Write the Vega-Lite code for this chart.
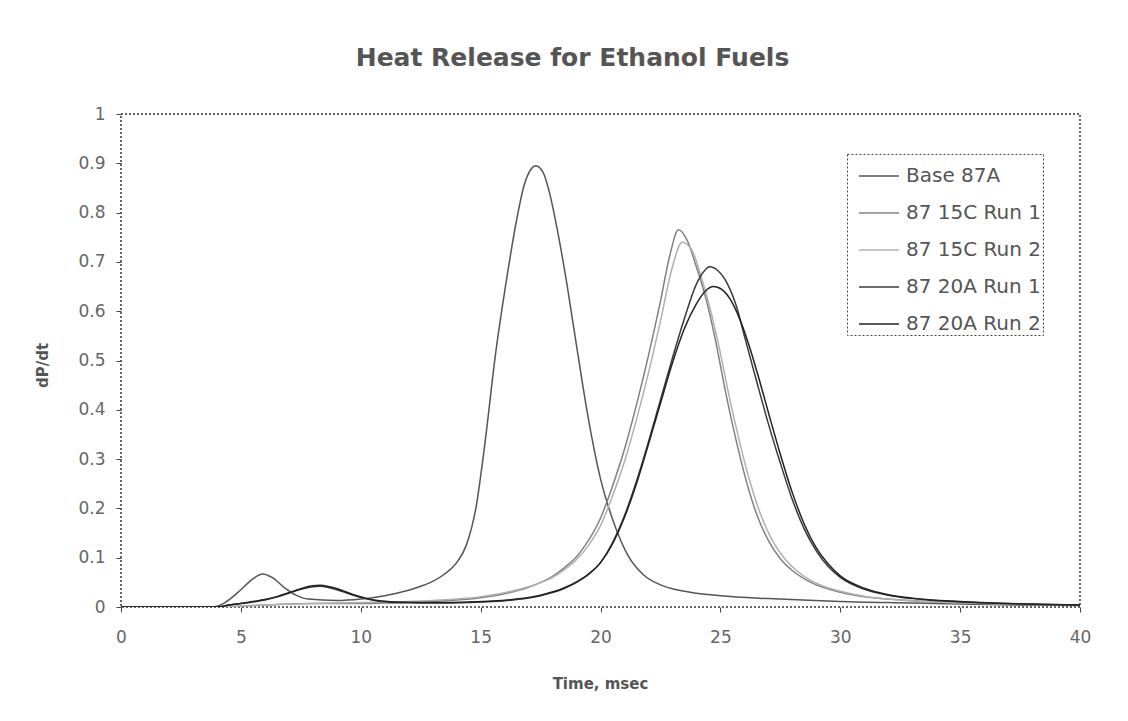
{
  "$schema": "https://vega.github.io/schema/vega-lite/v6.json",
  "width": 959,
  "height": 493,
  "autosize": {"type": "none"},
  "padding": {"left": 121, "top": 114, "right": 48, "bottom": 114},
  "background": "white",
  "title": {"text": "Heat Release for Ethanol Fuels", "font": "DejaVu Sans", "fontSize": 25, "fontWeight": "bold", "color": "#555555", "anchor": "middle", "offset": 34, "dx": -28},
  "config": {
    "view": {"stroke": "#333333", "strokeWidth": 1.5, "strokeDash": [2, 2]},
    "axis": {"grid": false, "domain": false, "labelFlush": false, "tickColor": "#444444", "tickSize": 5, "labelFont": "DejaVu Sans", "labelFontSize": 17, "labelColor": "#666666", "titleFont": "DejaVu Sans", "titleFontSize": 15, "titleFontWeight": "bold", "titleColor": "#555555"}
  },
  "datasets": {
    "curves": [
      {"s":"Base 87A","t":0,"v":0},{"s":"Base 87A","t":3.8,"v":0},{"s":"Base 87A","t":4.3,"v":0.008},{"s":"Base 87A","t":5,"v":0.035},{"s":"Base 87A","t":5.5,"v":0.057},{"s":"Base 87A","t":5.9,"v":0.067},{"s":"Base 87A","t":6.3,"v":0.06},{"s":"Base 87A","t":6.8,"v":0.04},{"s":"Base 87A","t":7.3,"v":0.024},{"s":"Base 87A","t":7.8,"v":0.016},{"s":"Base 87A","t":9,"v":0.013},{"s":"Base 87A","t":10,"v":0.016},{"s":"Base 87A","t":10.5,"v":0.019},{"s":"Base 87A","t":11,"v":0.023},{"s":"Base 87A","t":11.5,"v":0.028},{"s":"Base 87A","t":12,"v":0.034},{"s":"Base 87A","t":12.5,"v":0.042},{"s":"Base 87A","t":13,"v":0.052},{"s":"Base 87A","t":13.5,"v":0.067},{"s":"Base 87A","t":14,"v":0.09},{"s":"Base 87A","t":14.4,"v":0.125},{"s":"Base 87A","t":14.8,"v":0.2},{"s":"Base 87A","t":15.2,"v":0.34},{"s":"Base 87A","t":15.6,"v":0.505},{"s":"Base 87A","t":16.1,"v":0.67},{"s":"Base 87A","t":16.5,"v":0.785},{"s":"Base 87A","t":16.8,"v":0.853},{"s":"Base 87A","t":17.1,"v":0.888},{"s":"Base 87A","t":17.3,"v":0.895},{"s":"Base 87A","t":17.6,"v":0.882},{"s":"Base 87A","t":17.9,"v":0.835},{"s":"Base 87A","t":18.2,"v":0.765},{"s":"Base 87A","t":18.6,"v":0.655},{"s":"Base 87A","t":19,"v":0.53},{"s":"Base 87A","t":19.5,"v":0.38},{"s":"Base 87A","t":20,"v":0.26},{"s":"Base 87A","t":20.6,"v":0.165},{"s":"Base 87A","t":21.2,"v":0.1},{"s":"Base 87A","t":21.8,"v":0.065},{"s":"Base 87A","t":22.5,"v":0.045},{"s":"Base 87A","t":23,"v":0.037},{"s":"Base 87A","t":24,"v":0.028},{"s":"Base 87A","t":25,"v":0.023},{"s":"Base 87A","t":27,"v":0.017},{"s":"Base 87A","t":30,"v":0.011},{"s":"Base 87A","t":33,"v":0.008},{"s":"Base 87A","t":36,"v":0.005},{"s":"Base 87A","t":40,"v":0.003},

      {"s":"87 15C Run 1","t":0,"v":0},{"s":"87 15C Run 1","t":4,"v":0},{"s":"87 15C Run 1","t":5,"v":0.002},{"s":"87 15C Run 1","t":6,"v":0.004},{"s":"87 15C Run 1","t":7,"v":0.006},{"s":"87 15C Run 1","t":8,"v":0.007},{"s":"87 15C Run 1","t":9,"v":0.007},{"s":"87 15C Run 1","t":10,"v":0.007},{"s":"87 15C Run 1","t":11,"v":0.008},{"s":"87 15C Run 1","t":12,"v":0.009},{"s":"87 15C Run 1","t":13,"v":0.011},{"s":"87 15C Run 1","t":14,"v":0.014},{"s":"87 15C Run 1","t":15,"v":0.019},{"s":"87 15C Run 1","t":16,"v":0.027},{"s":"87 15C Run 1","t":17,"v":0.04},{"s":"87 15C Run 1","t":18,"v":0.062},{"s":"87 15C Run 1","t":18.5,"v":0.08},{"s":"87 15C Run 1","t":19,"v":0.102},{"s":"87 15C Run 1","t":19.5,"v":0.135},{"s":"87 15C Run 1","t":20,"v":0.18},{"s":"87 15C Run 1","t":20.5,"v":0.245},{"s":"87 15C Run 1","t":21,"v":0.32},{"s":"87 15C Run 1","t":21.5,"v":0.41},{"s":"87 15C Run 1","t":22,"v":0.51},{"s":"87 15C Run 1","t":22.5,"v":0.62},{"s":"87 15C Run 1","t":22.9,"v":0.715},{"s":"87 15C Run 1","t":23.25,"v":0.765},{"s":"87 15C Run 1","t":23.6,"v":0.745},{"s":"87 15C Run 1","t":24,"v":0.69},{"s":"87 15C Run 1","t":24.4,"v":0.625},{"s":"87 15C Run 1","t":24.8,"v":0.54},{"s":"87 15C Run 1","t":25.2,"v":0.44},{"s":"87 15C Run 1","t":25.6,"v":0.35},{"s":"87 15C Run 1","t":26,"v":0.27},{"s":"87 15C Run 1","t":26.5,"v":0.19},{"s":"87 15C Run 1","t":27,"v":0.135},{"s":"87 15C Run 1","t":27.5,"v":0.098},{"s":"87 15C Run 1","t":28,"v":0.074},{"s":"87 15C Run 1","t":28.5,"v":0.057},{"s":"87 15C Run 1","t":29,"v":0.045},{"s":"87 15C Run 1","t":30,"v":0.03},{"s":"87 15C Run 1","t":31,"v":0.021},{"s":"87 15C Run 1","t":32,"v":0.016},{"s":"87 15C Run 1","t":34,"v":0.01},{"s":"87 15C Run 1","t":36,"v":0.007},{"s":"87 15C Run 1","t":38,"v":0.005},{"s":"87 15C Run 1","t":40,"v":0.004},

      {"s":"87 15C Run 2","t":0,"v":0},{"s":"87 15C Run 2","t":4,"v":0},{"s":"87 15C Run 2","t":5,"v":0.002},{"s":"87 15C Run 2","t":6,"v":0.004},{"s":"87 15C Run 2","t":7,"v":0.006},{"s":"87 15C Run 2","t":8,"v":0.007},{"s":"87 15C Run 2","t":9,"v":0.008},{"s":"87 15C Run 2","t":10,"v":0.009},{"s":"87 15C Run 2","t":11,"v":0.01},{"s":"87 15C Run 2","t":12,"v":0.011},{"s":"87 15C Run 2","t":13,"v":0.013},{"s":"87 15C Run 2","t":14,"v":0.016},{"s":"87 15C Run 2","t":15,"v":0.021},{"s":"87 15C Run 2","t":16,"v":0.029},{"s":"87 15C Run 2","t":17,"v":0.041},{"s":"87 15C Run 2","t":18,"v":0.06},{"s":"87 15C Run 2","t":18.5,"v":0.076},{"s":"87 15C Run 2","t":19,"v":0.096},{"s":"87 15C Run 2","t":19.5,"v":0.125},{"s":"87 15C Run 2","t":20,"v":0.165},{"s":"87 15C Run 2","t":20.5,"v":0.225},{"s":"87 15C Run 2","t":21,"v":0.295},{"s":"87 15C Run 2","t":21.5,"v":0.38},{"s":"87 15C Run 2","t":22,"v":0.475},{"s":"87 15C Run 2","t":22.5,"v":0.58},{"s":"87 15C Run 2","t":23,"v":0.69},{"s":"87 15C Run 2","t":23.4,"v":0.74},{"s":"87 15C Run 2","t":23.8,"v":0.725},{"s":"87 15C Run 2","t":24.2,"v":0.67},{"s":"87 15C Run 2","t":24.6,"v":0.6},{"s":"87 15C Run 2","t":25,"v":0.515},{"s":"87 15C Run 2","t":25.4,"v":0.42},{"s":"87 15C Run 2","t":25.8,"v":0.335},{"s":"87 15C Run 2","t":26.2,"v":0.26},{"s":"87 15C Run 2","t":26.7,"v":0.185},{"s":"87 15C Run 2","t":27.2,"v":0.132},{"s":"87 15C Run 2","t":27.7,"v":0.097},{"s":"87 15C Run 2","t":28.2,"v":0.073},{"s":"87 15C Run 2","t":28.7,"v":0.056},{"s":"87 15C Run 2","t":29.2,"v":0.044},{"s":"87 15C Run 2","t":30,"v":0.032},{"s":"87 15C Run 2","t":31,"v":0.022},{"s":"87 15C Run 2","t":32,"v":0.016},{"s":"87 15C Run 2","t":34,"v":0.01},{"s":"87 15C Run 2","t":36,"v":0.007},{"s":"87 15C Run 2","t":38,"v":0.005},{"s":"87 15C Run 2","t":40,"v":0.004},

      {"s":"87 20A Run 1","t":0,"v":0},{"s":"87 20A Run 1","t":4,"v":0},{"s":"87 20A Run 1","t":4.5,"v":0.004},{"s":"87 20A Run 1","t":5,"v":0.007},{"s":"87 20A Run 1","t":5.5,"v":0.01},{"s":"87 20A Run 1","t":6,"v":0.014},{"s":"87 20A Run 1","t":6.5,"v":0.02},{"s":"87 20A Run 1","t":7,"v":0.028},{"s":"87 20A Run 1","t":7.5,"v":0.036},{"s":"87 20A Run 1","t":8,"v":0.041},{"s":"87 20A Run 1","t":8.3,"v":0.042},{"s":"87 20A Run 1","t":8.7,"v":0.039},{"s":"87 20A Run 1","t":9.2,"v":0.032},{"s":"87 20A Run 1","t":9.7,"v":0.024},{"s":"87 20A Run 1","t":10.2,"v":0.017},{"s":"87 20A Run 1","t":10.7,"v":0.012},{"s":"87 20A Run 1","t":11.5,"v":0.009},{"s":"87 20A Run 1","t":12.5,"v":0.008},{"s":"87 20A Run 1","t":13.5,"v":0.008},{"s":"87 20A Run 1","t":14.5,"v":0.009},{"s":"87 20A Run 1","t":15.5,"v":0.011},{"s":"87 20A Run 1","t":16.5,"v":0.015},{"s":"87 20A Run 1","t":17.5,"v":0.023},{"s":"87 20A Run 1","t":18.5,"v":0.038},{"s":"87 20A Run 1","t":19,"v":0.05},{"s":"87 20A Run 1","t":19.5,"v":0.066},{"s":"87 20A Run 1","t":20,"v":0.09},{"s":"87 20A Run 1","t":20.5,"v":0.13},{"s":"87 20A Run 1","t":21,"v":0.185},{"s":"87 20A Run 1","t":21.5,"v":0.255},{"s":"87 20A Run 1","t":22,"v":0.335},{"s":"87 20A Run 1","t":22.5,"v":0.42},{"s":"87 20A Run 1","t":23,"v":0.505},{"s":"87 20A Run 1","t":23.5,"v":0.585},{"s":"87 20A Run 1","t":24,"v":0.655},{"s":"87 20A Run 1","t":24.3,"v":0.68},{"s":"87 20A Run 1","t":24.55,"v":0.69},{"s":"87 20A Run 1","t":24.9,"v":0.682},{"s":"87 20A Run 1","t":25.3,"v":0.655},{"s":"87 20A Run 1","t":25.7,"v":0.605},{"s":"87 20A Run 1","t":26,"v":0.55},{"s":"87 20A Run 1","t":26.5,"v":0.46},{"s":"87 20A Run 1","t":27,"v":0.372},{"s":"87 20A Run 1","t":27.5,"v":0.292},{"s":"87 20A Run 1","t":28,"v":0.218},{"s":"87 20A Run 1","t":28.5,"v":0.158},{"s":"87 20A Run 1","t":29,"v":0.114},{"s":"87 20A Run 1","t":29.5,"v":0.082},{"s":"87 20A Run 1","t":30,"v":0.06},{"s":"87 20A Run 1","t":31,"v":0.036},{"s":"87 20A Run 1","t":32,"v":0.024},{"s":"87 20A Run 1","t":33,"v":0.017},{"s":"87 20A Run 1","t":35,"v":0.01},{"s":"87 20A Run 1","t":37,"v":0.007},{"s":"87 20A Run 1","t":40,"v":0.004},

      {"s":"87 20A Run 2","t":0,"v":0},{"s":"87 20A Run 2","t":4,"v":0},{"s":"87 20A Run 2","t":4.5,"v":0.004},{"s":"87 20A Run 2","t":5,"v":0.007},{"s":"87 20A Run 2","t":5.5,"v":0.011},{"s":"87 20A Run 2","t":6,"v":0.015},{"s":"87 20A Run 2","t":6.5,"v":0.021},{"s":"87 20A Run 2","t":7,"v":0.029},{"s":"87 20A Run 2","t":7.5,"v":0.037},{"s":"87 20A Run 2","t":8,"v":0.043},{"s":"87 20A Run 2","t":8.3,"v":0.044},{"s":"87 20A Run 2","t":8.7,"v":0.041},{"s":"87 20A Run 2","t":9.2,"v":0.034},{"s":"87 20A Run 2","t":9.7,"v":0.025},{"s":"87 20A Run 2","t":10.2,"v":0.018},{"s":"87 20A Run 2","t":10.7,"v":0.013},{"s":"87 20A Run 2","t":11.5,"v":0.01},{"s":"87 20A Run 2","t":12.5,"v":0.009},{"s":"87 20A Run 2","t":13.5,"v":0.009},{"s":"87 20A Run 2","t":14.5,"v":0.01},{"s":"87 20A Run 2","t":15.5,"v":0.012},{"s":"87 20A Run 2","t":16.5,"v":0.016},{"s":"87 20A Run 2","t":17.5,"v":0.024},{"s":"87 20A Run 2","t":18.5,"v":0.039},{"s":"87 20A Run 2","t":19,"v":0.051},{"s":"87 20A Run 2","t":19.5,"v":0.067},{"s":"87 20A Run 2","t":20,"v":0.09},{"s":"87 20A Run 2","t":20.5,"v":0.128},{"s":"87 20A Run 2","t":21,"v":0.182},{"s":"87 20A Run 2","t":21.5,"v":0.25},{"s":"87 20A Run 2","t":22,"v":0.33},{"s":"87 20A Run 2","t":22.5,"v":0.413},{"s":"87 20A Run 2","t":23,"v":0.495},{"s":"87 20A Run 2","t":23.5,"v":0.565},{"s":"87 20A Run 2","t":24,"v":0.615},{"s":"87 20A Run 2","t":24.4,"v":0.642},{"s":"87 20A Run 2","t":24.7,"v":0.65},{"s":"87 20A Run 2","t":25,"v":0.646},{"s":"87 20A Run 2","t":25.4,"v":0.625},{"s":"87 20A Run 2","t":25.8,"v":0.585},{"s":"87 20A Run 2","t":26.2,"v":0.53},{"s":"87 20A Run 2","t":26.6,"v":0.465},{"s":"87 20A Run 2","t":27,"v":0.395},{"s":"87 20A Run 2","t":27.5,"v":0.31},{"s":"87 20A Run 2","t":28,"v":0.232},{"s":"87 20A Run 2","t":28.5,"v":0.168},{"s":"87 20A Run 2","t":29,"v":0.12},{"s":"87 20A Run 2","t":29.5,"v":0.087},{"s":"87 20A Run 2","t":30,"v":0.063},{"s":"87 20A Run 2","t":31,"v":0.038},{"s":"87 20A Run 2","t":32,"v":0.025},{"s":"87 20A Run 2","t":33,"v":0.018},{"s":"87 20A Run 2","t":35,"v":0.011},{"s":"87 20A Run 2","t":37,"v":0.007},{"s":"87 20A Run 2","t":40,"v":0.004}
    ]
  },
  "data": {"name": "curves"},
  "mark": {"type": "line", "interpolate": "monotone", "strokeWidth": 1.5, "clip": true},
  "encoding": {
    "x": {"field": "t", "type": "quantitative", "scale": {"domain": [0, 40], "nice": false},
      "axis": {"title": "Time, msec", "values": [0,5,10,15,20,25,30,35,40], "labelPadding": 17, "titleX": 479, "titleY": 76, "titleAlign": "center", "titleBaseline": "middle"}},
    "y": {"field": "v", "type": "quantitative", "scale": {"domain": [0, 1], "nice": false},
      "axis": {"title": "dP/dt", "values": [0,0.1,0.2,0.3,0.4,0.5,0.6,0.7,0.8,0.9,1], "format": "~g", "labelPadding": 11, "titleX": -79, "titleY": 251, "titleAngle": -90, "titleAlign": "center", "titleBaseline": "middle"}},
    "color": {"field": "s", "type": "nominal",
      "scale": {"domain": ["Base 87A", "87 15C Run 1", "87 15C Run 2", "87 20A Run 1", "87 20A Run 2"], "range": ["#555555", "#808080", "#b0b0b0", "#3a3a3a", "#222222"]},
      "legend": {"orient": "none", "legendX": 726, "legendY": 40, "title": null, "symbolType": "stroke", "symbolSize": 1600, "symbolStrokeWidth": 1.5, "rowPadding": 6, "padding": 1, "symbolOffset": 10, "labelOffset": 6, "strokeColor": "#444444", "fillColor": "white", "labelFont": "DejaVu Sans", "labelFontSize": 20, "labelColor": "#555555", "labelLimit": 300,
        "encode": {"legend": {"update": {"strokeDash": {"value": [2, 2]}}}}}}
  }
}
